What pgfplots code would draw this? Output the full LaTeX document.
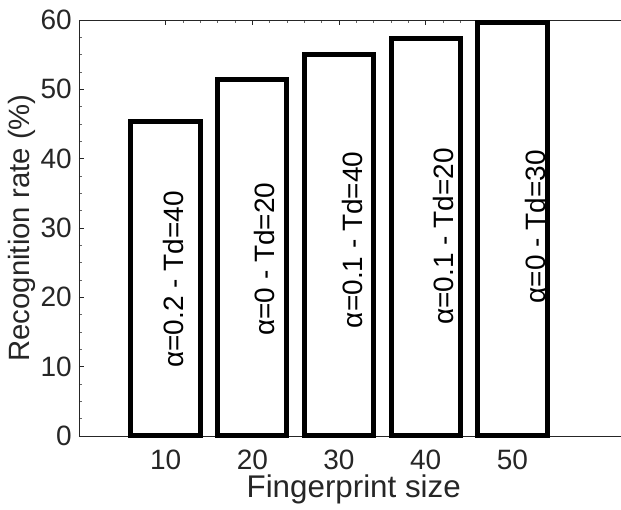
\documentclass[border=0pt]{standalone}
\usepackage{pgfplots}
\pgfplotsset{compat=1.18}
\usepackage{fontspec}
\setmainfont{Liberation Sans}
\definecolor{axgray}{HTML}{262626}
\begin{document}
\begin{tikzpicture}
\begin{axis}[
  scale only axis,
  width=416pt, height=312pt,
  xmin=0, xmax=64, ymin=0, ymax=60,
  xtick={10,20,30,40,50},
  ytick={0,10,20,30,40,50,60},
  minor x tick num=4,
  minor y tick num=3,
  tick align=inside,
  major tick length=3.75pt,
  minor tick length=2.2pt,
  axis line style={axgray, line width=0.6pt},
  every tick/.style={axgray, line width=0.6pt},
  every minor tick/.style={axgray!70, line width=0.5pt},
  tick label style={font=\fontsize{21}{21}\selectfont, text=axgray},
  /pgf/number format/assume math mode=true,
  xticklabel style={anchor=base, yshift=-24.75pt, inner sep=0pt},
  yticklabel style={anchor=east, inner sep=0pt, xshift=-5.25pt},
  xlabel={Fingerprint size},
  ylabel={Recognition rate (\%)},
  xlabel style={font=\fontsize{23.5}{23.5}\selectfont, text=axgray, at={(axis cs:31.7,0)}, anchor=base, yshift=-45.75pt, inner sep=0pt},
  ylabel style={font=\fontsize{22}{22}\selectfont, text=axgray, at={(axis description cs:0,0.5)}, anchor=center, yshift=43pt, inner sep=0pt},
  clip=false,
  axis on top=false,
]
\addplot[ybar, bar width=8, draw=black, fill=white, line width=3.75pt, line join=miter]
  coordinates {(10,45.3) (20,51.4) (30,55.0) (40,57.4) (50,59.7)};
\begin{scope}[every node/.style={rotate=90, anchor=center, font=\fontsize{21}{21}\selectfont, text=black, inner sep=0pt}]
\node at (axis cs:10.96,22.6) {α=0.2 - Td=40};
\node at (axis cs:21.45,25.5) {α=0 - Td=20};
\node at (axis cs:31.6,28.3) {α=0.1 - Td=40};
\node at (axis cs:42.0,28.8) {α=0.1 - Td=20};
\node at (axis cs:52.7,30.2) {α=0 - Td=30};
\end{scope}
\end{axis}
\pgfresetboundingbox
\path[use as bounding box] (-59.25pt,-55.5pt) rectangle (406.5pt,327pt);
\end{tikzpicture}
\end{document}
